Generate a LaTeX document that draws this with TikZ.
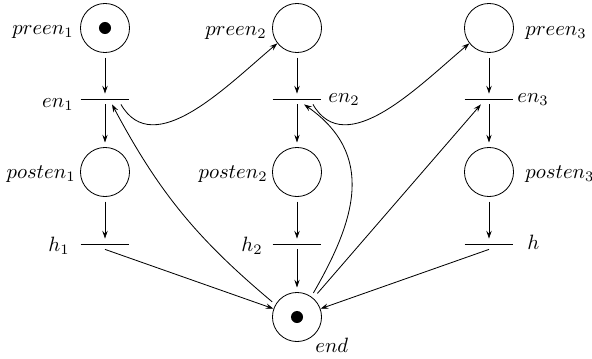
\documentclass[tikz,border=0pt]{standalone}
\usetikzlibrary{arrows.meta}
\begin{document}
\begin{tikzpicture}[x=0.483pt,y=-0.483pt,
  place/.style={circle,draw,line width=0.4pt,minimum size=23.7pt,inner sep=0pt},
  trans/.style={minimum width=23.2pt,minimum height=4.8pt,inner sep=0pt},
  arc/.style={-{Stealth[length=3.8pt,width=2.6pt,inset=1.4pt]},line width=0.4pt},
  lbl/.style={inner sep=0pt},
  token/.style={fill=black}]
\path[use as bounding box] (0,0) rectangle (592,359);

% places
\node[place] (p1) at (105,28) {};
\node[place] (p2) at (297,28) {};
\node[place] (p3) at (489,28) {};
\node[place] (q1) at (105,172) {};
\node[place] (q2) at (297,172) {};
\node[place] (q3) at (489,172) {};
\node[place] (end) at (297,317) {};

% transitions
\node[trans] (t1) at (105,99) {};
\node[trans] (t2) at (297,99) {};
\node[trans] (t3) at (489,99) {};
\node[trans] (h1) at (105,244) {};
\node[trans] (h2) at (297,244) {};
\node[trans] (h3) at (489,244) {};
\foreach \t in {t1,t2,t3,h1,h2,h3}
  \draw[line width=0.4pt] (\t.west) -- (\t.east);

% tokens
\fill[token] (p1) circle (2.9pt);
\fill[token] (end) circle (2.9pt);

% labels
\node[lbl,anchor=base east] (lp1) at (74,34) {$preen_1$};
\node[lbl,anchor=base east] (lp2) at (267,35) {$preen_2$};
\node[lbl,anchor=base west] (lp3) at (525,35) {$preen_3$};
\node[lbl,anchor=base east] (lt1) at (74,107) {$en_1$};
\node[lbl,anchor=base west] (lt2) at (328,102) {$en_2$};
\node[lbl,anchor=base west] (lt3) at (517,102) {$en_3$};
\node[lbl,anchor=base east] (lq1) at (76,178) {$posten_1$};
\node[lbl,anchor=base east] (lq2) at (268,178) {$posten_2$};
\node[lbl,anchor=base west] (lq3) at (525,178) {$posten_3$};
\node[lbl,anchor=base east] (lh1) at (70,251) {$h_1$};
\node[lbl,anchor=base east] (lh2) at (263,251) {$h_2$};
\node[lbl,anchor=base west] (lh3) at (527,249) {$h$};
\node[lbl,anchor=base west] (lend) at (315,352) {$end$};

% vertical flow
\foreach \i in {1,2,3} {
  \draw[arc,shorten <=2.2pt] (p\i) -- (t\i);
  \draw[arc,shorten >=2.2pt] (t\i) -- (q\i);
  \draw[arc,shorten <=2.2pt] (q\i) -- (h\i);
}

% enabling arcs to the next pre-place
\draw[arc] ([xshift=7.7pt]t1.south) to[out=-60,in=-140] (p2.218);
\draw[arc] ([xshift=7.7pt]t2.south) to[out=-60,in=-140] (p3.218);

% arcs into the end place
\draw[arc] (h1.south) -- (end);
\draw[arc,shorten >=2.2pt] (h2) -- (end);
\draw[arc] (h3.south) -- (end);

% arcs out of the end place
\draw[arc,shorten <=2pt] (end.150) to[out=140,in=-62] ([xshift=3.4pt]t1.south);
\draw[arc,shorten <=2pt] (end.55) to[out=60,in=-35,looseness=1.17] ([xshift=3.4pt]t2.south);
\draw[arc,shorten <=3pt] (end) -- ([xshift=-3.9pt]t3.south);
\end{tikzpicture}
\end{document}
